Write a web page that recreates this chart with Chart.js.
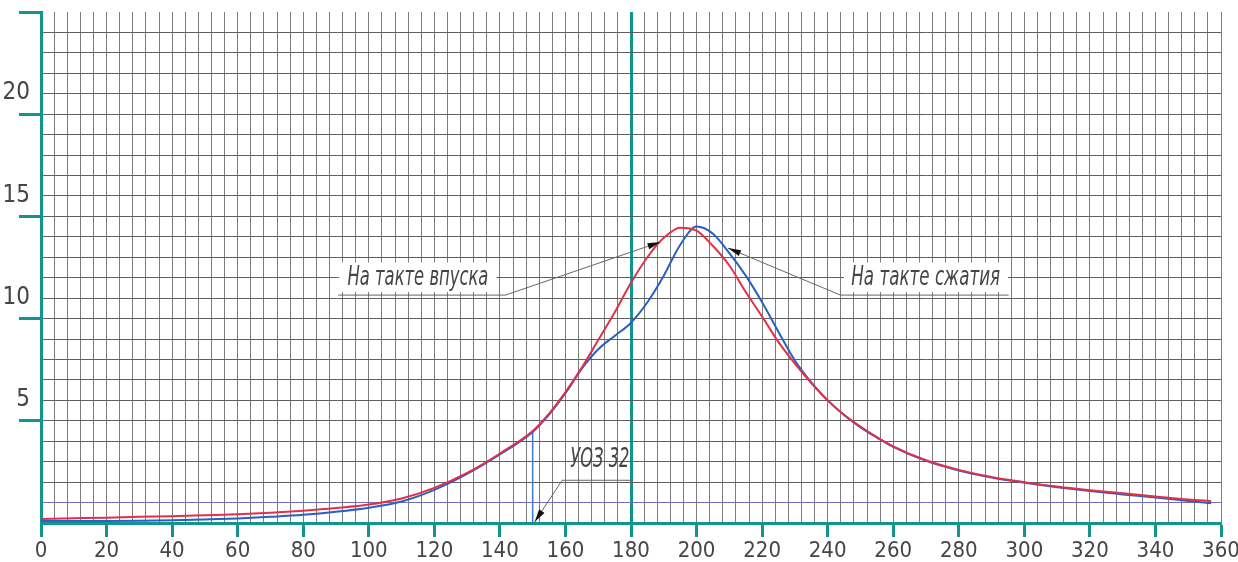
<!DOCTYPE html>
<html><head><meta charset="utf-8">
<script src="https://cdn.jsdelivr.net/npm/chart.js@4.4.1/dist/chart.umd.min.js"></script>
<style>html,body{margin:0;padding:0;background:#fff;}#c{display:block}</style>
</head><body>
<canvas id="c" width="1238" height="562"></canvas>
<script>
// ---- data ----
const angles = [0,10,20,30,40,50,60,70,80,90,100,110,120,130,140,150,
  155,160,165,170,175,180,185,190,195,200,205,210,215,220,225,230,235,240,245,250,255,260,
  270,280,290,300,310,320,330,340,350,357];
const intakeValues = [0.2,0.23,0.26,0.3,0.33,0.38,0.43,0.5,0.6,0.73,0.9,1.2,1.72,2.45,3.4,4.5,
  5.35,6.4,7.6,8.95,10.3,11.75,13.0,13.95,14.45,14.3,13.55,12.6,11.3,10.1,8.85,7.8,6.85,6.0,5.3,4.72,4.2,3.75,
  3.07,2.6,2.25,2.0,1.78,1.6,1.45,1.3,1.15,1.07];
const compressionValues = [0.1,0.1,0.1,0.11,0.13,0.17,0.22,0.3,0.4,0.55,0.75,1.05,1.62,2.4,3.35,4.45,
  5.3,6.35,7.55,8.5,9.15,9.8,10.8,12.1,13.6,14.5,14.15,13.2,12.1,10.8,9.35,7.95,6.88,6.0,5.28,4.68,4.18,3.72,
  3.04,2.57,2.22,1.97,1.75,1.56,1.4,1.25,1.08,0.97];
const uozX = [150,150];
const uozY = [0,4.45];
const xLabelEvery = 20;
const yLabelValues = [5,10,15,20];
const xRange = [0,360];
const yRange = [0,25];
const labelIntake = 'На такте впуска';
const labelCompression = 'На такте сжатия';
const labelUoz = 'УОЗ 32';

// ---- styles ----
const TEAL = '#12958f';
const GRID_H = '#5e5e5e';
const GRID_V = '#7c7c7c';
const RED = '#e0304a';
const BLUE = '#2a5fc4';
const TXT = '#454545';
const FONT = "'Liberation Sans Narrow','DejaVu Sans Condensed','Arial Narrow',sans-serif";

const toXY = (xs, ys) => xs.map((x,i)=>({x:x, y:ys[i]}));

const annotPlugin = {
  id:'annot',
  afterDatasetsDraw(chart){
    const {ctx, scales:{x, y}} = chart;
    const P = (a,b)=>[x.getPixelForValue(a), y.getPixelForValue(b)];
    function arrow(from, to){
      const ang = Math.atan2(to[1]-from[1], to[0]-from[0]);
      const L = 13, W = 3.2;
      ctx.save(); ctx.fillStyle = '#111';
      ctx.beginPath();
      ctx.moveTo(to[0], to[1]);
      ctx.lineTo(to[0]-L*Math.cos(ang)+W*Math.sin(ang), to[1]-L*Math.sin(ang)-W*Math.cos(ang));
      ctx.lineTo(to[0]-L*Math.cos(ang)-W*Math.sin(ang), to[1]-L*Math.sin(ang)+W*Math.cos(ang));
      ctx.closePath(); ctx.fill(); ctx.restore();
    }
    function line(pts){
      ctx.save(); ctx.strokeStyle = '#666'; ctx.lineWidth = 1;
      ctx.beginPath(); ctx.moveTo(pts[0][0], pts[0][1]);
      for (let i=1;i<pts.length;i++) ctx.lineTo(pts[i][0], pts[i][1]);
      ctx.stroke(); ctx.restore();
    }
    function text(str, x0, x1, yc, box){
      const a = P(x0, yc), b = P(x1, yc);
      const w = b[0]-a[0];
      ctx.save();
      if (box){
        const bl = P(box[0], box[1]), br = P(box[2], box[3]);
        ctx.fillStyle = '#fff';
        ctx.fillRect(bl[0], bl[1], br[0]-bl[0], br[1]-bl[1]);
      }
      ctx.font = 'italic 27px ' + FONT;
      ctx.fillStyle = TXT;
      ctx.textBaseline = 'middle';
      const m = ctx.measureText(str).width;
      ctx.translate(a[0], a[1]);
      ctx.scale(w/m, 1);
      ctx.fillText(str, 0, 0);
      ctx.restore();
    }
    // intake label
    text(labelIntake, 93.5, 136.5, 12.0, [91.0, 12.75, 139.0, 11.3]);
    line([P(90.7,11.15), P(141.7,11.15), P(189,13.75)]);
    arrow(P(141.7,11.15), P(189,13.75));
    // compression label
    text(labelCompression, 247.2, 292.6, 12.0, [245.0, 12.75, 295.0, 11.3]);
    line([P(295.2,11.15), P(243.9,11.15), P(209.6,13.45)]);
    arrow(P(243.9,11.15), P(209.6,13.45));
    // UOZ label
    text(labelUoz, 161.5, 179.5, 3.07, null);
    line([P(180.6,2.09), P(159,2.09), P(150.6,0.05)]);
    arrow(P(159,2.09), P(150.6,0.05));
  }
};

new Chart(document.getElementById('c'), {
  type:'line',
  data:{
    datasets:[
      {label:labelIntake, data:toXY(angles,intakeValues), borderColor:RED, borderWidth:2,
       pointRadius:0, cubicInterpolationMode:'monotone', fill:false},
      {label:labelCompression, data:toXY(angles,compressionValues), borderColor:BLUE, borderWidth:2,
       pointRadius:0, cubicInterpolationMode:'monotone', fill:false},
      {label:labelUoz, data:toXY(uozX,uozY), borderColor:'#3a78d8', borderWidth:1.5,
       pointRadius:0, fill:false}
    ]
  },
  options:{
    responsive:false, animation:false, devicePixelRatio:1,
    layout:{padding:{left:0, top:12, right:17, bottom:0}},
    plugins:{legend:{display:false}, tooltip:{enabled:false}},
    scales:{
      x:{type:'linear', min:xRange[0], max:xRange[1],
        afterFit(s){ s.height = 39; s.paddingRight = 0; s.paddingLeft = 0; },
        ticks:{stepSize:4, maxTicksLimit:1000, autoSkip:false, maxRotation:0, minRotation:0,
          padding:1, color:TXT, font:{family:FONT, size:22},
          callback:v => (v % xLabelEvery === 0) ? String(v) : ''},
        grid:{drawTicks:true, tickLength:14,
          color:c => { const v = c.tick ? c.tick.value : -1; return v===180 ? TEAL : (v===0 ? 'rgba(0,0,0,0)' : GRID_V); },
          lineWidth:c => (c.tick && c.tick.value===180) ? 3 : 1,
          tickColor:c => (c.tick && c.tick.value % xLabelEvery === 0) ? TEAL : 'rgba(0,0,0,0)',
          tickWidth:3},
        border:{color:TEAL, width:3}
      },
      y:{type:'linear', min:yRange[0], max:yRange[1],
        afterFit(s){ s.width = 41; s.paddingTop = 0; s.paddingBottom = 0; },
        ticks:{stepSize:1, maxTicksLimit:1000, autoSkip:false, padding:-11, labelOffset:-21,
          color:TXT, font:{family:FONT, size:24},
          callback:v => yLabelValues.includes(v) ? String(v) : ''},
        grid:{drawTicks:true, tickLength:22,
          color:c => { const v = c.tick ? c.tick.value : -1; return (v===0 || v===25) ? 'rgba(0,0,0,0)' : (v===1 ? '#7070b8' : GRID_H); },
          lineWidth:1,
          tickColor:c => (c.tick && c.tick.value % 5 === 0 && c.tick.value > 0) ? TEAL : 'rgba(0,0,0,0)',
          tickWidth:3},
        border:{color:TEAL, width:3}
      }
    }
  },
  plugins:[annotPlugin]
});
</script>
</body></html>
